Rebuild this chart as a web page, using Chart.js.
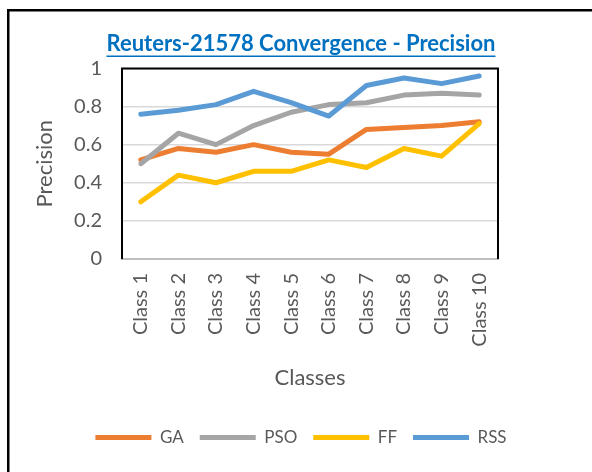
<!DOCTYPE html>
<html>
<head>
<meta charset="utf-8">
<script src="https://cdn.jsdelivr.net/npm/chart.js@4/dist/chart.umd.min.js"></script>
<style>
  html, body { margin: 0; padding: 0; background: #fff; }
  #wrap { width: 592px; height: 472px; }
</style>
</head>
<body>
<div id="wrap"><canvas id="precisionChart"></canvas></div>
<script>
const classes = ['Class 1', 'Class 2', 'Class 3', 'Class 4', 'Class 5',
                 'Class 6', 'Class 7', 'Class 8', 'Class 9', 'Class 10'];
const gaValues  = [0.52, 0.58, 0.56, 0.60, 0.56, 0.55, 0.68, 0.69, 0.70, 0.72];
const psoValues = [0.50, 0.66, 0.60, 0.70, 0.77, 0.81, 0.82, 0.86, 0.87, 0.86];
const ffValues  = [0.30, 0.44, 0.40, 0.46, 0.46, 0.52, 0.48, 0.58, 0.54, 0.71];
const rssValues = [0.76, 0.78, 0.81, 0.88, 0.82, 0.75, 0.91, 0.95, 0.92, 0.96];

const textGray = '#595959';
const fontFamily = 'Lato, "Open Sans", sans-serif';

// black frame round the plot + outer frame + title underline
const framePlugin = {
    id: 'frames',
    afterDraw(chart) {
        const c = chart.ctx;
        const a = chart.chartArea;
        c.save();
        c.strokeStyle = '#000';
        c.lineWidth = 2;
        c.beginPath();
        c.moveTo(a.left, a.bottom);
        c.lineTo(a.left, a.top);
        c.lineTo(a.right, a.top);
        c.lineTo(a.right, a.bottom);
        c.stroke();

        c.fillStyle = '#000';
        c.fillRect(7, 9, 585, 2.5);
        c.fillRect(7, 9, 2.5, 463);

        const t = chart.titleBlock;
        const opts = t.options;
        c.font = 'bold ' + opts.font.size + 'px ' + fontFamily;
        const w = c.measureText(opts.text).width;
        const cx = (t.left + t.right) / 2;
        const cy = t.top + opts.padding.top + opts.font.size * 1.2 / 2;
        c.strokeStyle = '#0070C0';
        c.lineWidth = 1.5;
        c.beginPath();
        c.moveTo(cx - w / 2, cy + opts.font.size * 0.55);
        c.lineTo(cx + w / 2, cy + opts.font.size * 0.55);
        c.stroke();
        c.restore();
    }
};

const ctx = document.getElementById('precisionChart').getContext('2d');

const line = (label, data, color, order) => ({
    label: label,
    data: data,
    borderColor: color,
    backgroundColor: color,
    borderWidth: 5,
    borderCapStyle: 'round',
    borderJoinStyle: 'round',
    pointRadius: 0,
    pointHoverRadius: 0,
    tension: 0,
    order: order
});

const precisionChart = new Chart(ctx, {
    type: 'line',
    data: {
        labels: classes,
        datasets: [
            line('GA', gaValues, '#ED7D31', 4),
            line('PSO', psoValues, '#A5A5A5', 3),
            line('FF', ffValues, '#FFC000', 2),
            line('RSS', rssValues, '#5B9BD5', 1)
        ]
    },
    options: {
        responsive: true,
        maintainAspectRatio: false,
        animation: false,
        layout: { padding: { left: 10, right: 0, top: 0, bottom: 16 } },
        plugins: {
            title: {
                display: true,
                text: 'Reuters-21578 Convergence - Precision',
                color: '#0070C0',
                font: { family: fontFamily, size: 22, weight: 'bold' },
                padding: { top: 31, bottom: 11 }
            },
            legend: {
                position: 'bottom',
                labels: {
                    usePointStyle: true,
                    pointStyle: 'line',
                    pointStyleWidth: 56,
                    color: textGray,
                    font: { family: fontFamily, size: 17 },
                    padding: 16,
                    sort: (a, b) => a.datasetIndex - b.datasetIndex
                }
            },
            tooltip: { enabled: false }
        },
        scales: {
            x: {
                offset: true,
                grid: { display: false, drawTicks: false },
                border: { display: true, color: '#BFBFBF', width: 2 },
                ticks: {
                    color: textGray,
                    font: { family: fontFamily, size: 20 },
                    minRotation: 90,
                    maxRotation: 90,
                    padding: 14
                },
                title: {
                    display: true,
                    text: 'Classes',
                    color: textGray,
                    font: { family: fontFamily, size: 22 },
                    padding: { top: 0, bottom: 22 }
                },
                afterFit: (scale) => { scale.height = 154; }
            },
            y: {
                min: 0,
                max: 1,
                grid: { color: '#D9D9D9', lineWidth: 1.5, drawTicks: false },
                border: { display: false },
                ticks: {
                    stepSize: 0.2,
                    color: textGray,
                    font: { family: fontFamily, size: 20 },
                    padding: 20,
                    callback: (v) => String(Number(v.toFixed(1)))
                },
                title: {
                    display: true,
                    text: 'Precision',
                    color: textGray,
                    font: { family: fontFamily, size: 22 },
                    padding: { top: 22, bottom: 0 }
                },
                afterFit: (scale) => { scale.width = 112; }
            },
            yPad: {
                position: 'right',
                display: true,
                grid: { display: false, drawTicks: false },
                border: { display: false },
                ticks: { display: false },
                afterFit: (scale) => { scale.width = 94; }
            }
        }
    },
    plugins: [framePlugin]
});
</script>
</body>
</html>
